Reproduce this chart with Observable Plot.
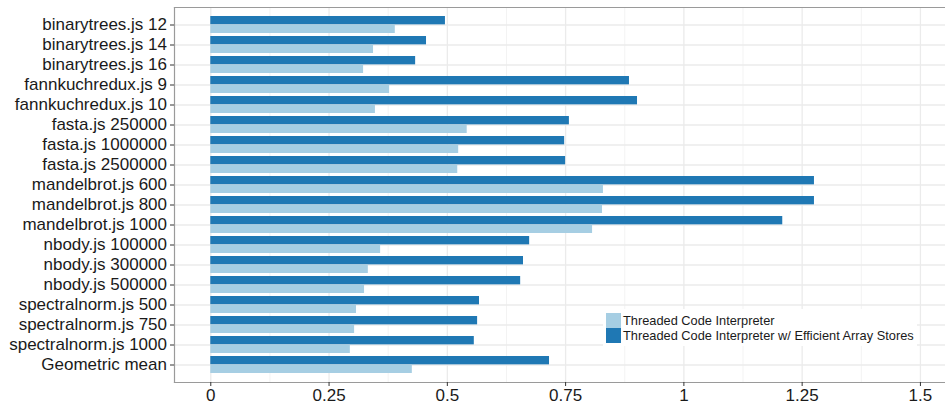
<!DOCTYPE html>
<html>
<head>
<meta charset="utf-8">
<script src="https://cdn.jsdelivr.net/npm/d3@7"></script>
<script src="https://cdn.jsdelivr.net/npm/@observablehq/plot@0.6"></script>
<style>
  html, body { margin: 0; padding: 0; background: #fff; }
  #wrap { position: relative; width: 945px; height: 404px; font-family: "Liberation Sans", Arial, sans-serif; }
  #legend { position: absolute; left: 603px; top: 309px; width: 314px; height: 37px; background: #fff; }
  .row { position: absolute; left: 3px; height: 15px; display: flex; align-items: center; font-size: 12.8px; color: #1a1a1a; white-space: nowrap; }
  .key { width: 15px; height: 15px; margin-right: 2px; }
</style>
</head>
<body>
<div id="wrap"></div>
<script>
const categories = [
  "binarytrees.js 12", "binarytrees.js 14", "binarytrees.js 16",
  "fannkuchredux.js 9", "fannkuchredux.js 10",
  "fasta.js 250000", "fasta.js 1000000", "fasta.js 2500000",
  "mandelbrot.js 600", "mandelbrot.js 800", "mandelbrot.js 1000",
  "nbody.js 100000", "nbody.js 300000", "nbody.js 500000",
  "spectralnorm.js 500", "spectralnorm.js 750", "spectralnorm.js 1000",
  "Geometric mean"
];
const seriesNames = ["Threaded Code Interpreter", "Threaded Code Interpreter w/ Efficient Array Stores"];
const threaded = [0.390, 0.344, 0.323, 0.378, 0.348, 0.542, 0.524, 0.522, 0.830, 0.828, 0.807, 0.359, 0.333, 0.325, 0.308, 0.304, 0.295, 0.426];
const efficient = [0.496, 0.456, 0.433, 0.885, 0.902, 0.758, 0.748, 0.750, 1.276, 1.276, 1.209, 0.674, 0.661, 0.655, 0.568, 0.564, 0.557, 0.716];
const xTicks = [0, 0.25, 0.5, 0.75, 1, 1.25, 1.5];
const xMinor = [0.125, 0.375, 0.625, 0.875, 1.125, 1.375];
const colors = ["#a6cee3", "#1f78b4"];

const data = categories.map((name, i) => ({name, threaded: threaded[i], efficient: efficient[i]}));
const half = 8.65;

const chart = Plot.plot({
  width: 945,
  height: 404,
  marginLeft: 174,
  marginRight: 0,
  marginTop: 7,
  marginBottom: 22,
  style: {fontFamily: "'Liberation Sans', Arial, sans-serif", background: "#fff"},
  x: {domain: [-0.0767, 1.553]},
  y: {type: "band", domain: categories, paddingInner: 0.158, paddingOuter: 0.179},
  marks: [
    Plot.gridX(xMinor, {stroke: "#f3f3f3", strokeOpacity: 1, strokeWidth: 1}),
    Plot.gridX(xTicks, {stroke: "#ebebeb", strokeOpacity: 1, strokeWidth: 1.3}),
    Plot.gridY(categories, {stroke: "#ebebeb", strokeOpacity: 1, strokeWidth: 1.3}),
    Plot.barX(data, {x: "efficient", y: "name", fill: colors[1], insetBottom: half}),
    Plot.barX(data, {x: "threaded", y: "name", fill: colors[0], insetTop: half}),
    Plot.frame({anchor: "left", stroke: "#9a9a9a", strokeWidth: 1.2}),
    Plot.frame({anchor: "top", stroke: "#9a9a9a", strokeWidth: 1.2}),
    Plot.frame({anchor: "bottom", stroke: "#9a9a9a", strokeWidth: 1.2}),
    Plot.axisX(xTicks, {tickSize: 4, tickPadding: 2, fontSize: 17, fill: "#1a1a1a", stroke: "#333", label: null, tickFormat: d => String(d)}),
    Plot.axisY({tickSize: 4, tickPadding: 3.5, fontSize: 17, fill: "#1a1a1a", stroke: "#333", label: null})
  ]
});

const wrap = document.getElementById("wrap");
wrap.appendChild(chart);
const legend = document.createElement("div");
legend.id = "legend";
seriesNames.forEach((s, i) => {
  const row = document.createElement("div");
  row.className = "row";
  row.style.top = (3.7 + i * 15) + "px";
  const key = document.createElement("div");
  key.className = "key";
  key.style.background = colors[i];
  const label = document.createElement("span");
  label.textContent = s;
  row.appendChild(key);
  row.appendChild(label);
  legend.appendChild(row);
});
wrap.appendChild(legend);
</script>
</body>
</html>
